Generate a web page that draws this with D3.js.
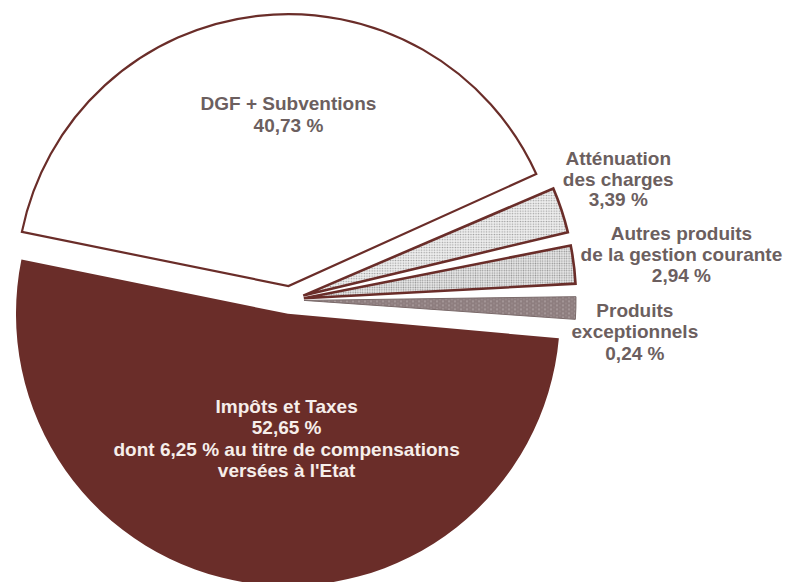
<!DOCTYPE html>
<html>
<head>
<meta charset="utf-8">
<script src="https://cdn.jsdelivr.net/npm/d3@7"></script>
<style>
  html, body { margin: 0; padding: 0; background: #ffffff; }
  svg { display: block; }
</style>
</head>
<body>
<svg id="chart" width="787" height="582"></svg>
<script>
// ---------- data ----------
const categories = [
  "DGF + Subventions",
  "Atténuation des charges",
  "Autres produits de la gestion courante",
  "Produits exceptionnels",
  "Impôts et Taxes"
];
const values = [40.73, 3.39, 2.94, 0.24, 52.65];
const valueLabels = ["40,73 %", "3,39 %", "2,94 %", "0,24 %", "52,65 %"];
const labelLines = [
  ["DGF + Subventions"],
  ["Atténuation", "des charges"],
  ["Autres produits", "de la gestion courante"],
  ["Produits", "exceptionnels"],
  ["Impôts et Taxes"]
];
const noteLines = [[], [], [], [], ["dont 6,25 % au titre de compensations", "versées à l'Etat"]];

// ---------- layout ----------
const W = 787, H = 582;
const cx = 290, cy = 300, R = 272, explode = 14;
const minShare = 2.0;        // visibility floor for very small slices
const smallPad = 0.04;       // angular gap (rad) trimmed from the small slices
const brown = "#6a2d29";
const textGray = "#6c5f5f";

const svg = d3.select("#chart");
const defs = svg.append("defs");

function dots(id, bg, dot, size, r) {
  const p = defs.append("pattern").attr("id", id).attr("patternUnits", "userSpaceOnUse")
    .attr("width", size).attr("height", size);
  p.append("rect").attr("width", size).attr("height", size).attr("fill", bg);
  p.append("circle").attr("cx", size / 2).attr("cy", size / 2).attr("r", r).attr("fill", dot);
}
dots("pAtt", "#efefef", "#9c9c9c", 2.6, 0.75);
dots("pAut", "#e9e9e9", "#949494", 2.4, 0.75);
(function () {
  const p = defs.append("pattern").attr("id", "pExc").attr("patternUnits", "userSpaceOnUse")
    .attr("width", 6).attr("height", 4);
  p.append("rect").attr("width", 6).attr("height", 4).attr("fill", "#8e7e7f");
  p.append("circle").attr("cx", 1).attr("cy", 1).attr("r", 0.7).attr("fill", "#c9bfbf");
  p.append("circle").attr("cx", 4).attr("cy", 3).attr("r", 0.6).attr("fill", "#b3a7a7");
})();

const fills = ["#ffffff", "url(#pAtt)", "url(#pAut)", "url(#pExc)", brown];
const strokes = [brown, brown, brown, "#7a6a6a", brown];
const strokeW = [2.2, 2.6, 2.6, 1, 0];
const isSmall = [false, true, true, true, false];

const data = categories.map((c, i) => ({ cat: c, value: values[i], i }));

const pie = d3.pie()
  .sort(null)
  .value(d => Math.max(d.value, minShare))
  .startAngle(-78.5 * Math.PI / 180)
  .endAngle(281.5 * Math.PI / 180);

const arc = d3.arc()
  .innerRadius(0)
  .outerRadius(R)
  .padRadius(R)
  .padAngle(d => isSmall[d.data.i] ? smallPad : 0);
const arcs = pie(data);

const g = svg.append("g").attr("transform", `translate(${cx},${cy})`);

g.selectAll("path.slice")
  .data(arcs)
  .join("path")
  .attr("class", "slice")
  .attr("d", arc)
  .attr("transform", d => {
    const m = (d.startAngle + d.endAngle) / 2;
    return `translate(${Math.sin(m) * explode},${-Math.cos(m) * explode})`;
  })
  .attr("fill", d => fills[d.data.i])
  .attr("stroke", d => strokes[d.data.i])
  .attr("stroke-width", d => strokeW[d.data.i])
  .attr("stroke-linejoin", "miter");

// label placement: radius along bisector + nudge
const labelR = [175, 330, 330, 330, 120];
const nudge = [[18, -16], [15, -31], [64, -19], [15, 7.5], [14, -6]];
const lineH = [22, 20.5, 21, 21.5, 21.5];
const textFill = [textGray, textGray, textGray, textGray, "#f6eeea"];

arcs.forEach(d => {
  const i = d.data.i;
  const m = (d.startAngle + d.endAngle) / 2;
  const x = Math.sin(m) * labelR[i] + nudge[i][0];
  const y = -Math.cos(m) * labelR[i] + nudge[i][1];
  const lines = labelLines[i].concat([valueLabels[i]], noteLines[i]);
  const t = g.append("text")
    .attr("x", x).attr("y", y)
    .attr("text-anchor", "middle")
    .attr("font-family", "'Liberation Sans', Arial, Helvetica, sans-serif")
    .attr("font-weight", "bold")
    .attr("font-size", 19)
    .attr("fill", textFill[i]);
  lines.forEach((ln, k) => {
    t.append("tspan").attr("x", x).attr("y", y + k * lineH[i]).text(ln);
  });
});
</script>
</body>
</html>
